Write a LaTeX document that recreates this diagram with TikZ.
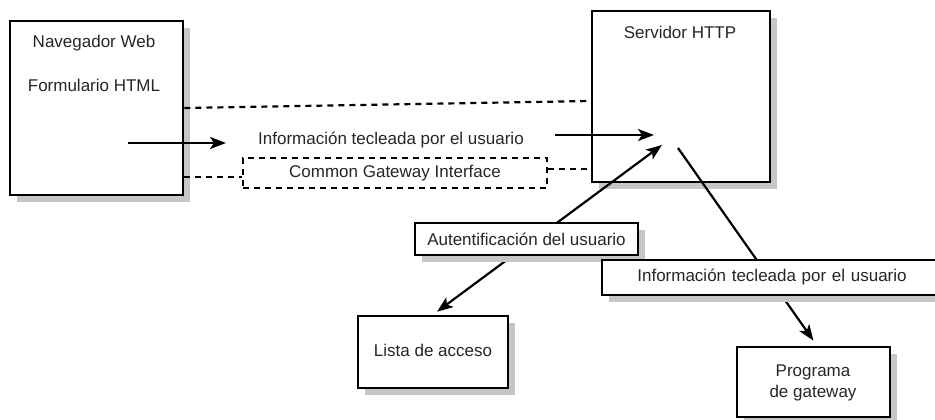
\documentclass[tikz,border=0pt]{standalone}
\usepackage{fontspec}
\setmainfont{Liberation Sans}
\usetikzlibrary{arrows.meta,shadows}
\begin{document}
\begin{tikzpicture}[x=1pt,y=1pt,
  shadowed/.style={drop shadow={shadow xshift=7pt,shadow yshift=-7pt,fill=gray!45,opacity=1}},
  box/.style={draw=black, line width=2.6pt, fill=white, inner sep=0pt, shadowed},
  txt/.style={font=\fontsize{17}{21}\selectfont, text=black!85, inner sep=0pt, align=center},
  lab/.style={box, txt, line width=2.4pt},
  dashline/.style={line width=2.2pt, dash pattern=on 6pt off 5pt},
  arr/.style={line width=2.2pt, -{Stealth[length=16pt,width=12pt,inset=4pt]}},
  biarr/.style={line width=2.2pt, {Stealth[length=16pt,width=12pt,inset=4pt]}-{Stealth[length=16pt,width=12pt,inset=4pt]}}
]
\useasboundingbox (0,0) rectangle (935,-420);
\fill[white] (0,0) rectangle (935,-420);

% main boxes
\node[box, minimum width=173pt, minimum height=174pt] (nav) at (96.5,-108) {};
\node[txt] (navt) at (94,-43) {Navegador Web};
\node[txt] (navf) at (94,-85) {Formulario HTML};

\node[box, minimum width=178pt, minimum height=171pt] (srv) at (681,-96.5) {};
\node[txt] (srvt) at (680,-32) {Servidor HTTP};

\node[box, minimum width=150pt, minimum height=72pt] (lista) at (433,-352) {};
\node[txt] (listat) at (433,-350) {Lista de acceso};

\node[box, minimum width=153pt, minimum height=70pt] (prog) at (813.5,-382) {};
\node[txt] (progt) at (813,-383) {Programa\\de gateway};

% CGI dashed box
\node[txt, draw=black, dashline, minimum width=304pt, minimum height=30pt] (cgi) at (395,-173) {Common Gateway Interface};

% dashed connections
\coordinate (d1l) at (0,-108);
\coordinate (d1r) at (0,-101);
\draw[dashline] (nav.east |- d1l) -- (srv.west |- d1r);
\coordinate (d2l) at (0,-177);
\coordinate (d2r) at (0,-169);
\draw[dashline] (nav.east |- d2l) -- (cgi.west |- d2l);
\draw[dashline] (cgi.east |- d2r) -- (srv.west |- d2r);

% horizontal arrows
\coordinate (a1s) at (128,-143);
\coordinate (a1e) at (226,-143);
\draw[arr] (a1s) -- (a1e);
\node[txt] (info1) at (391,-140) {Información tecleada por el usuario};
\coordinate (a2s) at (555,-135);
\coordinate (a2e) at (654,-135);
\draw[arr] (a2s) -- (a2e);

% authentication arrow
\coordinate (a3e) at (662,-145);
\draw[biarr] ([xshift=4pt,yshift=3pt]lista.north) -- (a3e);
\node[lab, minimum width=223pt, minimum height=32pt] (auth) at (526.5,-239) {Autentificación del usuario};

% gateway arrow
\coordinate (a4s) at (678,-148);
\draw[arr] (a4s) -- ([yshift=5pt]prog.north);
\node[lab, minimum width=348pt, minimum height=35pt, text width=340pt] (info2) at (776,-277.5) {\hspace*{-8pt}Información tecleada por el usuario};
\end{tikzpicture}
\end{document}
